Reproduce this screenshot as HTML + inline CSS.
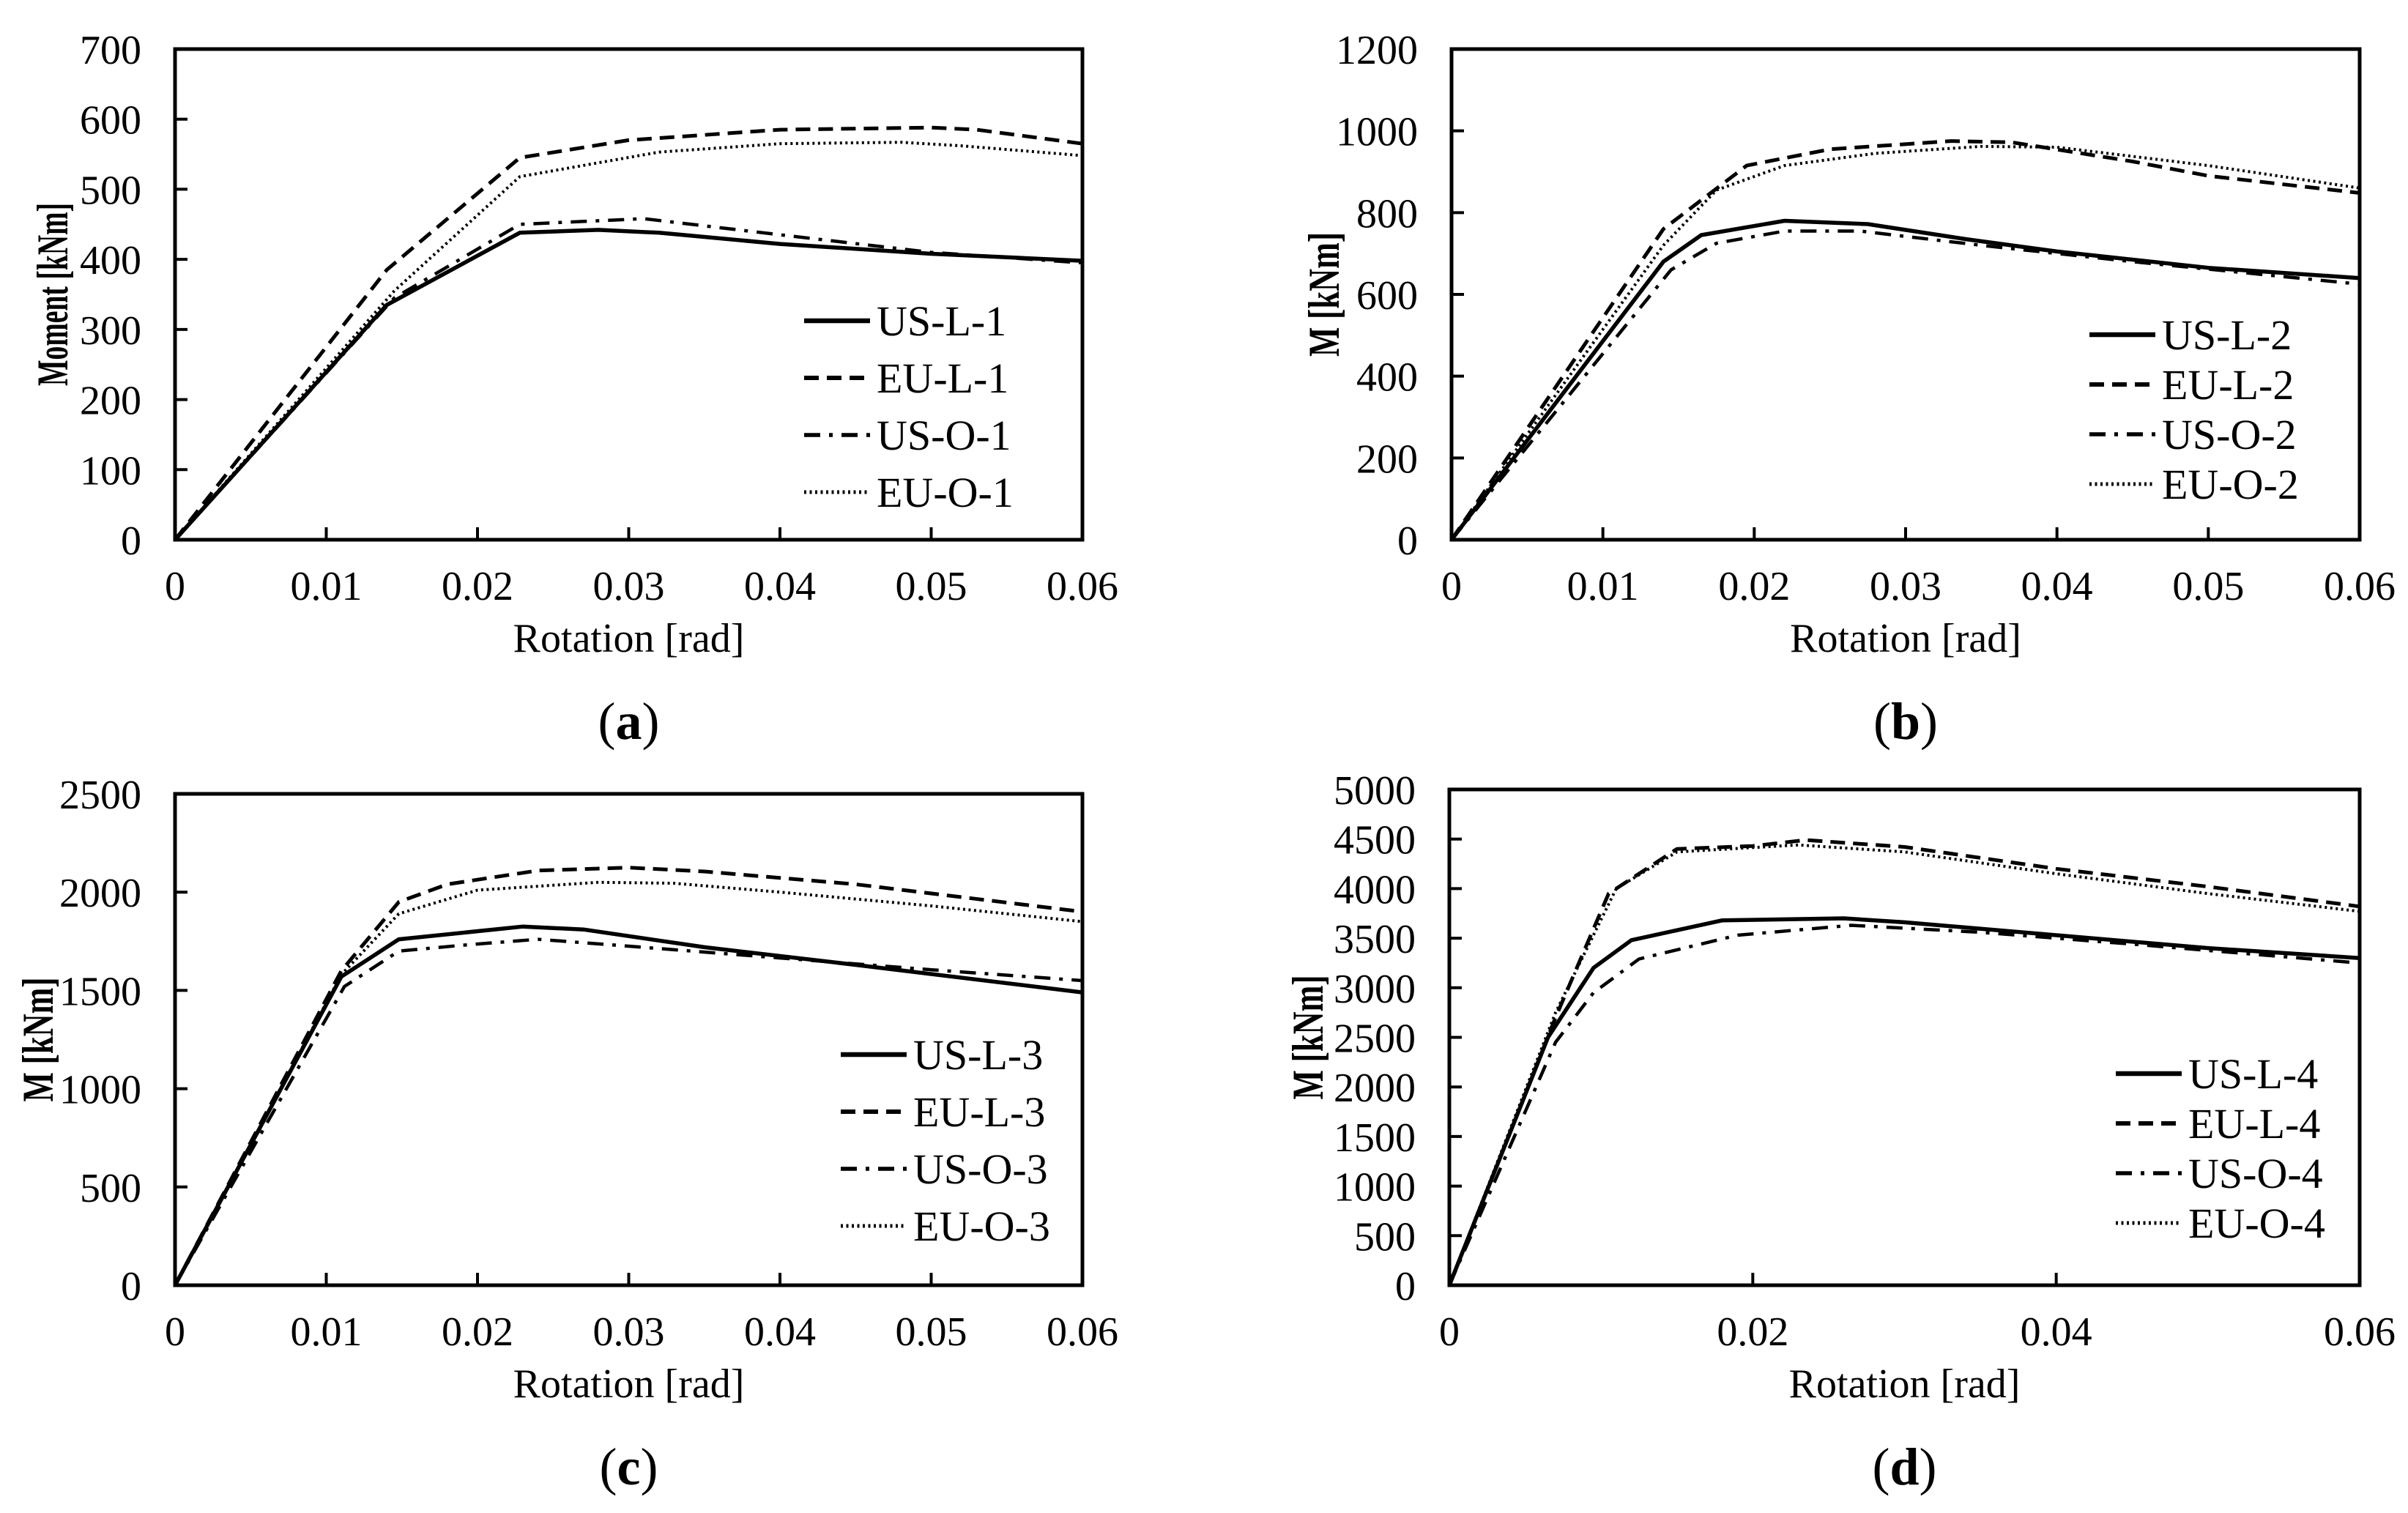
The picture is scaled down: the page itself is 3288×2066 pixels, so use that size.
<!DOCTYPE html>
<html><head><meta charset="utf-8"><style>
html,body{margin:0;padding:0;background:#fff;}
svg{display:block;font-family:"Liberation Serif",serif;}
</style></head><body>
<svg id="fig" width="3288" height="2066" viewBox="0 0 3288 2066" xmlns="http://www.w3.org/2000/svg"></svg>
<script>
// Panel (a)
const aX_US_L=[0,0.014,0.0228,0.028,0.032,0.04,0.05,0.06];
const aY_US_L=[0,335,438,442,438,422,408,398];
const aX_EU_L=[0,0.014,0.0228,0.03,0.04,0.05,0.053,0.06];
const aY_EU_L=[0,385,545,570,585,588,585,565];
const aX_US_O=[0,0.0145,0.0228,0.031,0.04,0.05,0.06];
const aY_US_O=[0,345,450,458,435,410,395];
const aX_EU_O=[0,0.0145,0.0228,0.032,0.04,0.048,0.052,0.06];
const aY_EU_O=[0,355,518,553,565,567,562,548];
const aYTicks=[0,100,200,300,400,500,600,700];
const aXTicks=[0,0.01,0.02,0.03,0.04,0.05,0.06];
// Panel (b)
const bX_US_L=[0,0.014,0.0165,0.022,0.0275,0.034,0.04,0.05,0.06];
const bY_US_L=[0,680,745,780,772,735,705,665,640];
const bX_EU_L=[0,0.014,0.0195,0.025,0.033,0.037,0.045,0.05,0.06];
const bY_EU_L=[0,760,915,955,975,972,925,890,848];
const bX_US_O=[0,0.0145,0.0175,0.022,0.027,0.035,0.045,0.06];
const bY_US_O=[0,660,725,755,755,720,680,625];
const bX_EU_O=[0,0.014,0.0175,0.022,0.028,0.035,0.04,0.05,0.06];
const bY_EU_O=[0,720,855,915,945,962,960,915,860];
const bYTicks=[0,200,400,600,800,1000,1200];
const bXTicks=[0,0.01,0.02,0.03,0.04,0.05,0.06];
// Panel (c)
const cX_US_L=[0,0.011,0.0148,0.023,0.027,0.035,0.045,0.06];
const cY_US_L=[0,1570,1760,1825,1810,1720,1630,1490];
const cX_EU_L=[0,0.011,0.0148,0.018,0.024,0.03,0.035,0.045,0.06];
const cY_EU_L=[0,1600,1950,2040,2110,2125,2105,2040,1900];
const cX_US_O=[0,0.0112,0.0148,0.019,0.024,0.03,0.04,0.05,0.06];
const cY_US_O=[0,1520,1700,1730,1760,1725,1665,1605,1550];
const cX_EU_O=[0,0.011,0.0148,0.02,0.028,0.033,0.04,0.05,0.06];
const cY_EU_O=[0,1580,1890,2010,2050,2045,2000,1930,1850];
const cYTicks=[0,500,1000,1500,2000,2500];
const cXTicks=[0,0.01,0.02,0.03,0.04,0.05,0.06];
// Panel (d)
const dX_US_L=[0,0.0065,0.0095,0.012,0.018,0.026,0.03,0.04,0.05,0.06];
const dY_US_L=[0,2500,3200,3480,3680,3700,3660,3530,3400,3300];
const dX_EU_L=[0,0.007,0.0105,0.015,0.02,0.0235,0.03,0.04,0.05,0.06];
const dY_EU_L=[0,2700,3950,4400,4430,4490,4420,4200,4020,3820];
const dX_US_O=[0,0.007,0.0095,0.0125,0.019,0.0265,0.035,0.045,0.06];
const dY_US_O=[0,2450,2950,3290,3530,3630,3560,3440,3250];
const dX_EU_O=[0,0.007,0.011,0.015,0.023,0.03,0.04,0.05,0.06];
const dY_EU_O=[0,2750,4000,4370,4440,4370,4150,3950,3770];
const dYTicks=[0,500,1000,1500,2000,2500,3000,3500,4000,4500,5000];
const dXTicks=[0,0.02,0.04,0.06];

const NS="http://www.w3.org/2000/svg";
const svg=document.getElementById('fig');
function mk(tag,attrs,parent){const e=document.createElementNS(NS,tag);for(const k in attrs)e.setAttribute(k,attrs[k]);(parent||svg).appendChild(e);return e;}
const styles=[
 {dash:null,w:5.5},
 {dash:"20,11",w:5},
 {dash:"22,12,5,12",w:4.5},
 {dash:"3,4.5",w:4}
];
function panel(p){
  const g=mk('g',{});
  
  
  const X=v=>p.l+(v-0)/(p.xmax)*(p.r-p.l);
  const Y=v=>p.b-(v/p.ymax)*(p.b-p.t);
  p.yt.forEach(v=>{
    const t=mk('line',{x1:p.l,x2:p.l+17,y1:Y(v),y2:Y(v),stroke:'#000','stroke-width':4},g);
    
    
    const tx=mk('text',{x:p.l-46,y:Y(v)+20,'text-anchor':'end','font-size':56},g);
    tx.textContent=String(v);
    
    
  });
  p.xt.forEach(v=>{
    const t=mk('line',{x1:X(v),x2:X(v),y1:p.b,y2:p.b-17,stroke:'#000','stroke-width':4},g);
    
    
    const tx=mk('text',{x:X(v),y:p.b+82,'text-anchor':'middle','font-size':56},g);
    tx.textContent=String(v);
    
    
  });
  p.series.forEach((s,i)=>{
    const d=s.x.map((v,j)=>(j?'L':'M')+X(v).toFixed(1)+','+Y(s.y[j]).toFixed(1)).join(' ');
    const a={d:d,fill:'none',stroke:'#000','stroke-width':styles[i].w,'stroke-linejoin':'round'};
    if(styles[i].dash)a['stroke-dasharray']=styles[i].dash;
    const path=mk('path',a,g);
    
    
  });
  const fr=mk('rect',{x:p.l,y:p.t,width:p.r-p.l,height:p.b-p.t,fill:'none',stroke:'#000','stroke-width':5},g);
  
  
  p.series.forEach((s,i)=>{
    const yy=p.ly+i*p.lsp;
    const a={x1:p.lx,x2:p.lx+90,y1:yy,y2:yy,stroke:'#000','stroke-width':styles[i].w+1};
    if(styles[i].dash)a['stroke-dasharray']=styles[i].dash;
    const ln=mk('line',a,g);
    
    
    const tx=mk('text',{x:p.lx+99,y:yy+20,'font-size':58},g);
    tx.textContent=s.name;
    
    
  });
  const xt=mk('text',{x:(p.l+p.r)/2,y:p.b+153,'text-anchor':'middle','font-size':56},g);
  xt.textContent='Rotation [rad]';
  
  
  const yc=(p.t+p.b)/2;
  const yt=mk('text',{x:p.ytx,y:yc,'text-anchor':'middle','font-size':60,'font-weight':'bold',textLength:p.ytl,lengthAdjust:'spacingAndGlyphs',transform:`rotate(-90 ${p.ytx} ${yc})`},g);
  yt.textContent=p.ytitle;
  
  
  const lab=mk('text',{x:(p.l+p.r)/2,y:p.b+272,'text-anchor':'middle','font-size':72},g);
  lab.innerHTML='(<tspan font-weight="bold">'+p.id+'</tspan>)';
  
  
}
panel({id:'a',l:239,r:1478,t:67,b:737,xmax:0.06,ymax:700,yt:aYTicks,xt:aXTicks,ytitle:'Moment [kNm]',ytx:92,ytl:250,
  lx:1098,ly:438,lsp:78,
  series:[{name:'US-L-1',x:aX_US_L,y:aY_US_L},{name:'EU-L-1',x:aX_EU_L,y:aY_EU_L},{name:'US-O-1',x:aX_US_O,y:aY_US_O},{name:'EU-O-1',x:aX_EU_O,y:aY_EU_O}]});
panel({id:'b',l:1982,r:3222,t:67,b:737,xmax:0.06,ymax:1200,yt:bYTicks,xt:bXTicks,ytitle:'M [kNm]',ytx:1828,ytl:170,
  lx:2853,ly:457,lsp:68,
  series:[{name:'US-L-2',x:bX_US_L,y:bY_US_L},{name:'EU-L-2',x:bX_EU_L,y:bY_EU_L},{name:'US-O-2',x:bX_US_O,y:bY_US_O},{name:'EU-O-2',x:bX_EU_O,y:bY_EU_O}]});
panel({id:'c',l:239,r:1478,t:1084,b:1755,xmax:0.06,ymax:2500,yt:cYTicks,xt:cXTicks,ytitle:'M [kNm]',ytx:72,ytl:170,
  lx:1148,ly:1440,lsp:78,
  series:[{name:'US-L-3',x:cX_US_L,y:cY_US_L},{name:'EU-L-3',x:cX_EU_L,y:cY_EU_L},{name:'US-O-3',x:cX_US_O,y:cY_US_O},{name:'EU-O-3',x:cX_EU_O,y:cY_EU_O}]});
panel({id:'d',l:1979,r:3222,t:1078,b:1755,xmax:0.06,ymax:5000,yt:dYTicks,xt:dXTicks,ytitle:'M [kNm]',ytx:1806,ytl:170,
  lx:2889,ly:1466,lsp:68,
  series:[{name:'US-L-4',x:dX_US_L,y:dY_US_L},{name:'EU-L-4',x:dX_EU_L,y:dY_EU_L},{name:'US-O-4',x:dX_US_O,y:dY_US_O},{name:'EU-O-4',x:dX_EU_O,y:dY_EU_O}]});
</script>
</body></html>
